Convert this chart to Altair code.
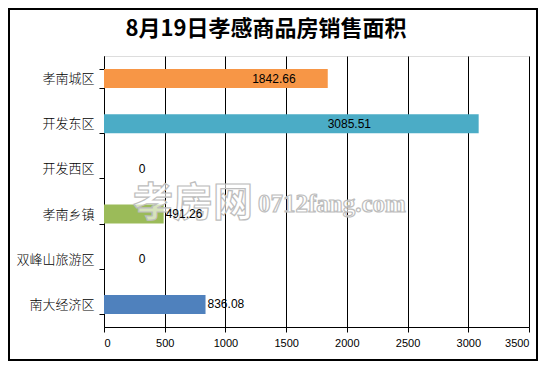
import altair as alt
import pandas as pd

categories = ["孝南城区", "开发东区", "开发西区", "孝南乡镇", "双峰山旅游区", "南大经济区"]
values = [1842.66, 3085.51, 0, 491.26, 0, 836.08]
labels = ["1842.66", "3085.51", "0", "491.26", "0", "836.08"]
colors = ["#F79646", "#4BACC6", "#8064A2", "#9BBB59", "#C0504D", "#4F81BD"]
x_ticks = [0, 500, 1000, 1500, 2000, 2500, 3000, 3500]
title_text = "8月19日孝感商品房销售面积"
watermark_cn = "孝房网"
watermark_en = "0712fang.com"

df = pd.DataFrame({"cat": categories, "val": values, "label": labels, "color": colors})
df["half"] = df["val"] / 2

W, H = 425, 271
PAD = {"left": 96, "top": 48, "right": 9, "bottom": 34}

y_enc = alt.Y(
    "cat:N",
    sort=categories,
    scale=alt.Scale(paddingInner=0.58, paddingOuter=0.29),
    axis=alt.Axis(
        title=None, tickBand="extent", tickSize=5, tickColor="black",
        domainColor="black", labelFont="Noto Sans CJK SC", labelFontSize=13,
        labelFontWeight=300, labelColor="black", labelPadding=5, grid=False,
    ),
)
x_scale = alt.Scale(domain=[0, 3500], nice=False)
x_axis = alt.Axis(
    title=None, values=x_ticks, grid=True, gridColor="black", gridOpacity=1,
    tickColor="black", tickSize=5, domainColor="black",
    labelFont="Liberation Sans", labelFontSize=11, labelColor="black",
    labelPadding=5, format="d",
)

base = alt.Chart(df)

bars = base.mark_bar().encode(
    x=alt.X("val:Q", scale=x_scale, axis=x_axis),
    y=y_enc,
    color=alt.Color("color:N", scale=None),
)

big = base.transform_filter("datum.val >= 1000").mark_text(
    align="center", baseline="middle", dx=58, font="Liberation Sans",
    fontSize=12, color="black",
).encode(x=alt.X("half:Q", scale=x_scale), y=alt.Y("cat:N", sort=categories), text="label:N")

small = base.transform_filter("datum.val > 0 && datum.val < 1000").mark_text(
    align="left", baseline="middle", dx=2, font="Liberation Sans",
    fontSize=12, color="black",
).encode(x=alt.X("val:Q", scale=x_scale), y=alt.Y("cat:N", sort=categories), text="label:N")

zero = base.transform_filter("datum.val == 0").mark_text(
    align="center", baseline="middle", dx=38, font="Liberation Sans",
    fontSize=12, color="black",
).encode(x=alt.X("val:Q", scale=x_scale), y=alt.Y("cat:N", sort=categories), text="label:N")

wm_cn = alt.Chart(pd.DataFrame({"t": [watermark_cn]})).mark_text(
    align="left", baseline="middle", font="Noto Sans CJK SC", fontSize=40,
    fontWeight="bold", fill="#ffffff", fillOpacity=0.6, stroke="#bdbdbd", strokeWidth=1.2,
).encode(x=alt.value(29), y=alt.value(148), text="t:N")

wm_en = alt.Chart(pd.DataFrame({"t": [watermark_en]})).mark_text(
    align="left", baseline="middle", font="Liberation Serif", fontSize=25,
    fontWeight="bold", fill="#ffffff", fillOpacity=0.6, stroke="#bdbdbd", strokeWidth=1.2,
).encode(x=alt.value(154), y=alt.value(148), text="t:N")

title = alt.Chart(pd.DataFrame({"t": [title_text]})).mark_text(
    align="center", baseline="middle", font="Noto Sans CJK SC", fontSize=22,
    fontWeight="bold", color="black",
).encode(x=alt.value(162), y=alt.value(-27), text="t:N")

frame = alt.Chart(pd.DataFrame({"a": [0]})).mark_rect(
    filled=False, stroke="black", strokeWidth=2
).encode(
    x=alt.value(-PAD["left"] + 1), x2=alt.value(W + PAD["right"] - 1),
    y=alt.value(-PAD["top"] + 1), y2=alt.value(H + PAD["bottom"] - 1),
)

chart = alt.layer(bars, wm_cn, wm_en, big, small, zero, title, frame).properties(
    width=W, height=H, padding=PAD, autosize="none",
).configure_view(stroke=None).configure(background="white")

chart.save("out.html", embed_options={"renderer": "svg", "actions": False})
